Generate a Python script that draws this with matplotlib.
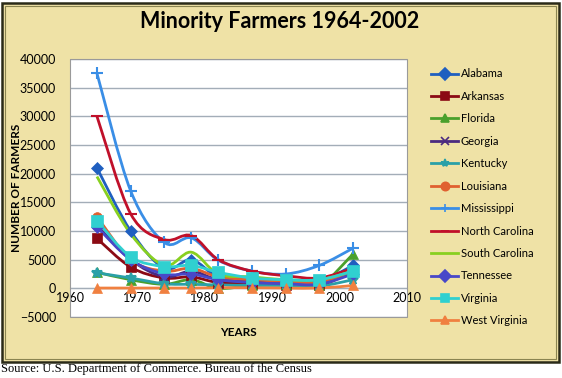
import numpy as np
import matplotlib.pyplot as plt
from matplotlib.path import Path
from matplotlib.patches import PathPatch, Rectangle
from matplotlib.lines import Line2D

# data
years = [1964, 1969, 1974, 1978, 1982, 1987, 1992, 1997, 2002]
states = ['Alabama', 'Arkansas', 'Florida', 'Georgia', 'Kentucky', 'Louisiana',
          'Mississippi', 'North Carolina', 'South Carolina', 'Tennessee',
          'Virginia', 'West Virginia']
alabama = [21000, 10000, 3500, 5000, 2000, 1500, 1300, 1200, 4000]
arkansas = [8700, 3700, 1800, 2000, 1000, 800, 600, 500, 3000]
florida = [2800, 1500, 700, 1500, 0, 500, 800, 500, 6000]
georgia = [11000, 5000, 2000, 3000, 1500, 1200, 1000, 1000, 3000]
kentucky = [2700, 1800, 800, 700, 600, 500, 500, 400, 1500]
louisiana = [12500, 5000, 3000, 3500, 2000, 1500, 1200, 1000, 3000]
mississippi = [37500, 17000, 8000, 8800, 4900, 3000, 2500, 4000, 7000]
north_carolina = [30000, 13000, 8500, 9200, 5000, 3000, 2200, 1800, 3500]
south_carolina = [19500, 9500, 4000, 6300, 2500, 2000, 1500, 1500, 3000]
tennessee = [10700, 5000, 2500, 2500, 1500, 1000, 800, 700, 2500]
virginia = [11800, 5500, 3800, 4000, 2800, 1800, 1500, 1500, 3000]
west_virginia = [50, 50, 50, 50, 100, 100, 50, 50, 500]
series = [alabama, arkansas, florida, georgia, kentucky, louisiana, mississippi,
          north_carolina, south_carolina, tennessee, virginia, west_virginia]

colors = ['#1f5fc0', '#8b0a14', '#4aa02c', '#4a2a80', '#2aa0a8', '#e06030',
          '#3a8ee6', '#c0102a', '#88d020', '#4848c8', '#30d0d0', '#f08040']
markers = ['D', 's', '^', 'x', '*', 'o', '+', '_', '', 'D', 's', '^']
msizes = [6, 7, 7, 6, 7, 7, 8, 8, 0, 6, 8, 7]

plt.rcParams['font.family'] = ['Lato', 'DejaVu Sans']


def smooth_path(x, y, t=1 / 6):
    # excel-like smoothed line as cubic bezier segments
    x = np.asarray(x, float)
    y = np.asarray(y, float)
    n = len(x)
    verts = [(x[0], y[0])]
    codes = [Path.MOVETO]
    for i in range(n - 1):
        x0, y0 = (x[i - 1], y[i - 1]) if i > 0 else (x[i], y[i])
        x3, y3 = (x[i + 2], y[i + 2]) if i + 2 < n else (x[i + 1], y[i + 1])
        c1 = (x[i] + (x[i + 1] - x0) * t, y[i] + (y[i + 1] - y0) * t)
        c2 = (x[i + 1] - (x3 - x[i]) * t, y[i + 1] - (y3 - y[i]) * t)
        verts += [c1, c2, (x[i + 1], y[i + 1])]
        codes += [Path.CURVE4] * 3
    return Path(verts, codes)


bg = '#efe2a6'
fig = plt.figure(figsize=(5.62, 3.78), dpi=100)
fig.patch.set_facecolor('white')

# parchment panel with border
fig.add_artist(Rectangle((2 / 562, 1 - 362 / 378), 557 / 562, 359 / 378,
                         transform=fig.transFigure, facecolor=bg,
                         edgecolor='#2a2a18', linewidth=1.8, zorder=-10))
fig.add_artist(Rectangle((5 / 562, 1 - 359 / 378), 551 / 562, 353 / 378,
                         transform=fig.transFigure, facecolor='none',
                         edgecolor='#8a8450', linewidth=0.8, zorder=-9))

ax = fig.add_axes([70 / 562, 1 - 317 / 378, 337 / 562, 258 / 378])
ax.set_facecolor('white')

for name, vals, c, m, ms in zip(states, series, colors, markers, msizes):
    ax.add_patch(PathPatch(smooth_path(years, vals), facecolor='none',
                           edgecolor=c, linewidth=2, zorder=3))
    if m:
        ax.plot(years, vals, linestyle='none', marker=m, color=c,
                markersize=ms, markeredgewidth=1.5 if m in 'x+_*' else 0.5,
                zorder=4)

ax.set_xlim(1960, 2010)
ax.set_ylim(-5000, 40000)
ax.set_xticks(range(1960, 2011, 10))
ax.set_yticks(range(-5000, 40001, 5000))
ax.yaxis.grid(True, color='#a3adb8', linewidth=1)
ax.set_axisbelow(True)
ax.tick_params(labelsize=9, length=0)
ax.tick_params(axis='x', pad=3)
ax.tick_params(axis='y', pad=10)
for s in ['top', 'right', 'left']:
    ax.spines[s].set_visible(False)
# excel puts the category axis at zero
ax.spines['bottom'].set_position(('data', 0))
ax.spines['bottom'].set_color('#a3adb8')
ax.add_patch(Rectangle((0, 0), 1, 1, transform=ax.transAxes, facecolor='none',
                       edgecolor='#9a9a9a', linewidth=0.8, clip_on=False, zorder=5))

fig.text(17 / 562, 1 - 188 / 378, 'NUMBER OF FARMERS', rotation=90, ha='center',
         va='center', fontsize=8.5, fontweight='bold')
fig.text(238 / 562, 1 - 333 / 378, 'YEARS', ha='center', va='center',
         fontsize=8.5, fontweight='bold')

fig.text(280 / 562, 1 - 22 / 378, 'Minority Farmers 1964-2002', ha='center',
         va='center', fontsize=15.5, fontweight='bold')

handles = [Line2D([], [], color=c, marker=m if m else None, markersize=min(ms, 6),
                  linewidth=2, markeredgewidth=1.2)
           for c, m, ms in zip(colors, markers, msizes)]
fig.legend(handles, states, loc='upper left', bbox_to_anchor=(427 / 562, 1 - 64 / 378),
           frameon=False, fontsize=8, handlelength=2.4, handletextpad=0.25,
           labelspacing=1.03, borderaxespad=0)

fig.text(1 / 562, 1 - 369 / 378, 'Source: U.S. Department of Commerce. Bureau of the Census',
         ha='left', va='center', fontsize=9, family='Liberation Serif')

fig.savefig('out.png', dpi=100, facecolor=fig.get_facecolor())
